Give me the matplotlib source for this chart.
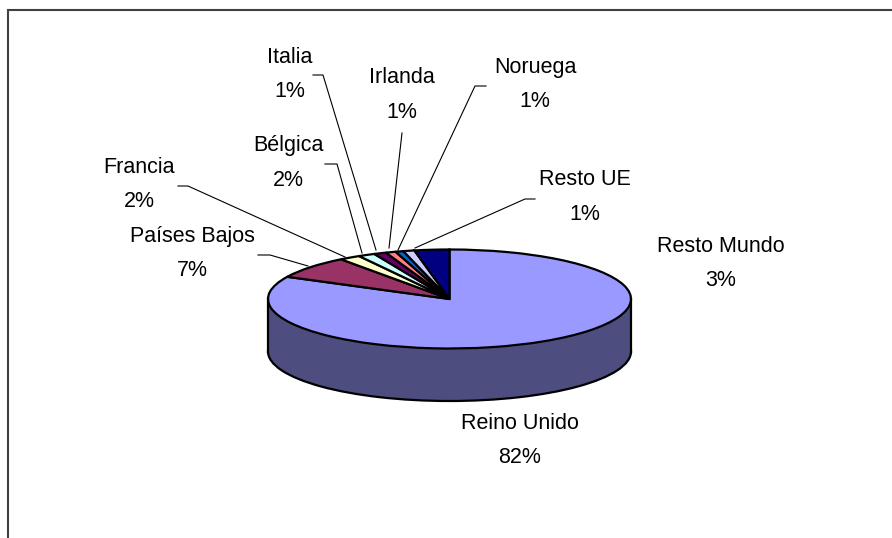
import matplotlib
matplotlib.use("Agg")
import matplotlib.pyplot as plt

W, H = 892, 538
plt.rcParams['font.family'] = ['Liberation Sans', 'DejaVu Sans']

countries = ["Reino Unido", "Países Bajos", "Francia", "Bélgica", "Italia",
             "Irlanda", "Noruega", "Resto UE", "Resto Mundo"]
shares = [82.4, 7.4, 1.9, 1.5, 1.1, 0.9, 0.7, 1.0, 3.1]
colors = ["#9999FF", "#993366", "#FFFFCC", "#CCFFFF", "#660066",
          "#FF8080", "#0066CC", "#CCCCFF", "#000080"]
wall_color = "#4D4D80"

# label centres and leader paths, in pixels from the top left of the picture
label_pos = {"Reino Unido": (520, 440.5), "Países Bajos": (192, 253.5),
             "Francia": (139, 184.5), "Bélgica": (288, 163), "Italia": (290, 74.5),
             "Irlanda": (402, 95), "Noruega": (535, 84.5), "Resto UE": (585, 197),
             "Resto Mundo": (721, 263.5)}
leaders = {"Países Bajos": [(258, 255), (270, 255), (308, 266)],
           "Francia": [(178, 186), (188, 186), (345, 257)],
           "Bélgica": [(325, 164), (337, 164), (362, 253)],
           "Italia": [(313, 75), (323, 75), (376, 250)],
           "Irlanda": [(402, 133), (389, 248)],
           "Noruega": [(486, 86), (475, 86), (398, 250)],
           "Resto UE": [(535, 199), (525, 199), (415, 248)]}

fig = plt.figure(figsize=(W / 100, H / 100), dpi=100, facecolor="white")

# overlay in pixel units: frame, leaders, labels
px = fig.add_axes([0, 0, 1, 1], zorder=2)
px.set_xlim(0, W)
px.set_ylim(H, 0)
px.axis("off")
px.patch.set_alpha(0)
px.plot([8, 8, W], [H, 10, 10], color="#404040", lw=1.5, solid_joinstyle="miter")

for name, path in leaders.items():
    px.plot([p[0] for p in path], [p[1] for p in path], color="black", lw=0.8)

for name, value in zip(countries, shares):
    x, y = label_pos[name]
    px.text(x, y, f"{name}\n{value:.0f}%", ha="center", va="center",
            fontsize=15.5, linespacing=1.85, color="black")

# pie: a flattened circle, ±1 spans the top ellipse
cx, cy, rx, ry, depth = 449.5, 299, 181.5, 49.5, 52.5
pie = fig.add_axes([(cx - rx) / W, 1 - (cy + ry) / H, 2 * rx / W, 2 * ry / H], zorder=1)
edge = dict(edgecolor="black", linewidth=1.6)
drop = depth / ry
pie.pie(shares, colors=[wall_color] * len(shares), startangle=90, counterclock=False,
        center=(0, -drop), radius=1, wedgeprops=dict(edgecolor=wall_color, linewidth=0))
pie.pie([1], colors=["none"], startangle=90, center=(0, -drop), radius=1,
        wedgeprops=edge)
pie.fill_between([-1, 1], [-drop, -drop], [0, 0], color=wall_color, lw=0)
pie.plot([-1, -1], [-drop, 0], color="black", lw=1.6)
pie.plot([1, 1], [-drop, 0], color="black", lw=1.6)
wedges, _ = pie.pie(shares, colors=colors, startangle=90, counterclock=False,
                    radius=1, wedgeprops=edge)
pie.set_aspect("auto")
pie.set_xlim(-1, 1)
pie.set_ylim(-1, 1)
pie.axis("off")
for artist in pie.get_children():
    artist.set_clip_on(False)

fig.savefig("out.png", dpi=100)
